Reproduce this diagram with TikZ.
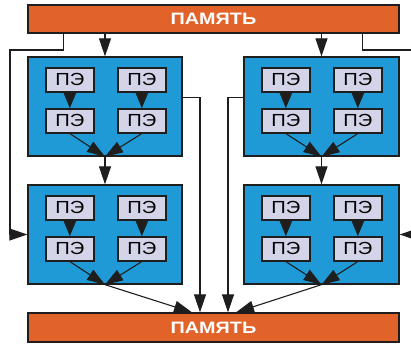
\documentclass[tikz,border=0pt]{standalone}
\usepackage{fontspec}
\setmainfont{Liberation Sans}
\newfontfamily\memfont{Liberation Sans}[FakeStretch=1.2]
\newfontfamily\pefont{Liberation Sans}[FakeStretch=1.15]
\usetikzlibrary{arrows.meta,calc}

\definecolor{memcol}{HTML}{E2632A}
\definecolor{blockcol}{HTML}{1F9AD6}
\definecolor{pecol}{HTML}{D3D4E8}
\definecolor{edgecol}{HTML}{1E1E1E}

\tikzset{
  memory/.style={draw=edgecol, line width=1.3pt, fill=memcol, minimum width=371pt,
    inner sep=0pt, text=white, font=\memfont\fontsize{16.5}{16.5}\selectfont\bfseries},
  block/.style={draw=edgecol, line width=1.3pt, fill=blockcol, minimum width=154pt,
    minimum height=99pt, inner sep=0pt},
  pe/.style={draw=edgecol, line width=1.4pt, fill=pecol, minimum width=48pt,
    minimum height=24pt, inner sep=0pt, font=\pefont\fontsize{17.5}{17.5}\selectfont},
  link/.style={draw=edgecol, line width=1.1pt},
  arr/.style={link, -{Triangle[length=18pt,width=12pt]}},
  bigarr/.style={link, -{Triangle[length=16pt,width=13pt]}},
}

\begin{document}
\begin{tikzpicture}[x=1pt,y=-1pt]
  \useasboundingbox (0,0) rectangle (411,346);

  % shared memory, top and bottom
  \node[memory, minimum height=28pt] (memtop) at (213.5,19) {ПАМЯТЬ};
  \node[memory, minimum height=29pt] (membot) at (213.5,327.5) {ПАМЯТЬ};

  % four processor blocks
  \node[block] (A) at (105,106.5) {};
  \node[block, minimum width=155pt] (B) at (321.5,106.5) {};
  \node[block] (C) at (105,234.5) {};
  \node[block, minimum width=155pt] (D) at (321.5,234.5) {};

  % processing elements inside each block
  \foreach \b in {A,B,C,D}{
    \node[pe] (\b1) at ($(\b.north west)+(42.5,23.5)$) {ПЭ};
    \node[pe] (\b2) at ($(\b.north west)+(114.5,23.5)$) {ПЭ};
    \node[pe] (\b3) at ($(\b.north west)+(42.5,64.5)$) {ПЭ};
    \node[pe] (\b4) at ($(\b.north west)+(114.5,64.5)$) {ПЭ};
    \draw[bigarr] (\b1) -- (\b3);
    \draw[bigarr] (\b2) -- (\b4);
    \draw[arr] (\b3.south) -- (\b.south);
    \draw[arr] (\b4.south) -- (\b.south);
  }

  % helper points for the routed connectors
  \coordinate (lbend) at (10,50);
  \coordinate (rbend) at (415,50);
  \coordinate (xa) at (200,0);
  \coordinate (xb) at (228,0);
  \coordinate (xc) at (192,0);
  \coordinate (xd) at (236,0);

  % memory to the upper blocks
  \draw[arr] (memtop.south -| A.north) -- (A.north);
  \draw[arr] (memtop.south -| B.north) -- (B.north);

  % memory directly to the lower blocks
  \draw[arr] ($(memtop.south west)+(36,0)$) |- (lbend) |- (C.west);
  \draw[arr] ($(memtop.south east)+(-37,0)$) |- (rbend) |- (D.east);

  % upper blocks to lower blocks
  \draw[arr] (A.south) -- (C.north);
  \draw[arr] (B.south) -- (D.north);

  % upper blocks straight to memory
  \draw[arr] ($(A.north east)+(0,41)$) -| (membot.north -| xa);
  \draw[arr] ($(B.north west)+(0,41)$) -| (membot.north -| xb);

  % lower blocks to memory
  \draw[arr] (C.south) -- (membot.north -| xc);
  \draw[arr] (D.south) -- (membot.north -| xd);
\end{tikzpicture}
\end{document}
